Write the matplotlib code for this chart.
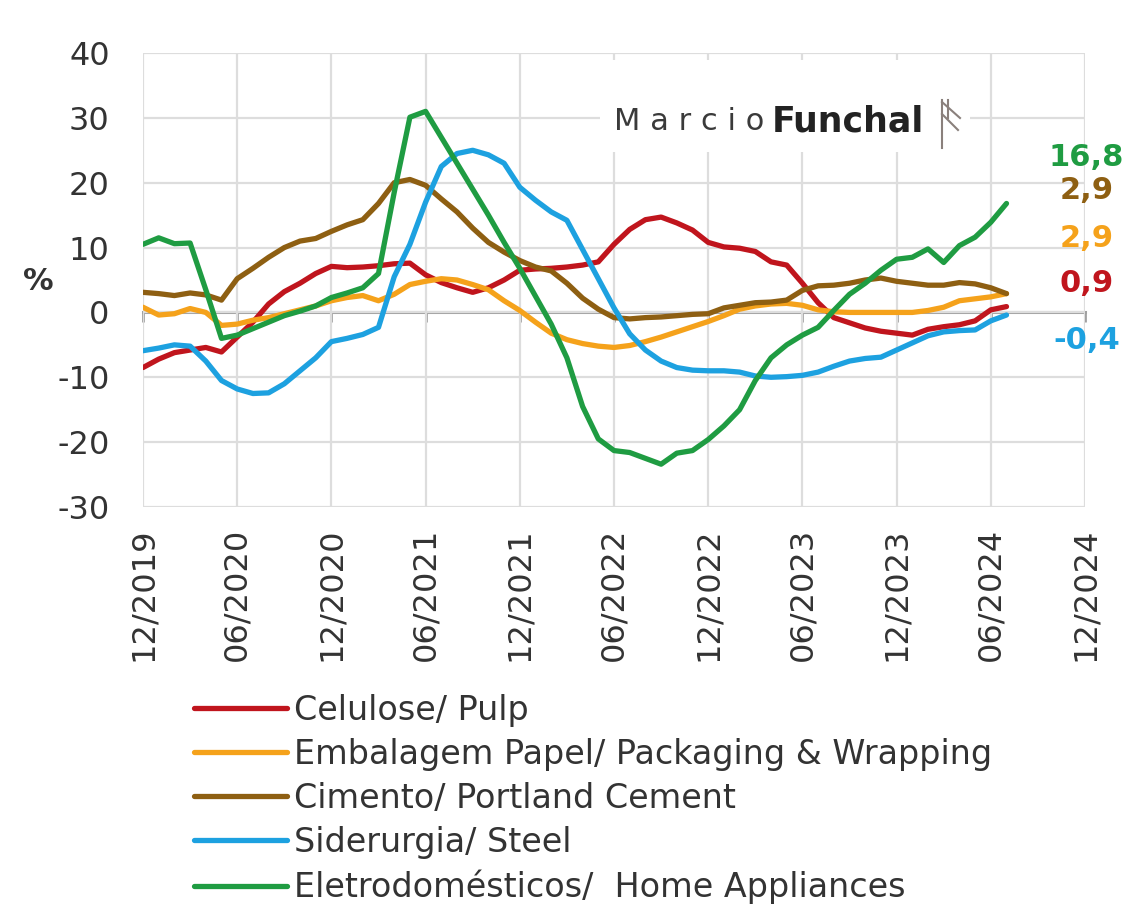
import numpy as np
import matplotlib.pyplot as plt
from matplotlib.patches import Rectangle
from matplotlib.lines import Line2D

# monthly series, 12/2019 .. 07/2024 (%)
pulp = [-8.5, -7.2, -6.2, -5.8, -5.4, -6.1, -3.8, -1.5, 1.3, 3.2,
        4.5, 6.0, 7.1, 6.9, 7.0, 7.2, 7.5, 7.6, 5.8, 4.6,
        3.8, 3.1, 3.8, 5.0, 6.5, 6.7, 6.8, 7.0, 7.3, 7.8,
        10.5, 12.8, 14.3, 14.7, 13.8, 12.7, 10.8, 10.1, 9.9, 9.4,
        7.8, 7.3, 4.5, 1.5, -0.8, -1.6, -2.4, -2.9, -3.2, -3.5,
        -2.6, -2.2, -1.9, -1.3, 0.4, 0.9]
packaging = [0.8, -0.4, -0.2, 0.6, 0.0, -2.0, -1.8, -1.2, -0.8, -0.2,
             0.4, 1.0, 1.8, 2.3, 2.6, 1.8, 2.8, 4.3, 4.8, 5.2,
             5.0, 4.3, 3.5, 1.8, 0.3, -1.5, -3.2, -4.2, -4.8, -5.2,
             -5.4, -5.1, -4.5, -3.8, -3.0, -2.2, -1.4, -0.5, 0.5, 1.0,
             1.3, 1.4, 1.1, 0.4, 0.1, 0.0, 0.0, 0.0, 0.0, 0.0,
             0.3, 0.8, 1.8, 2.1, 2.4, 2.9]
cement = [3.1, 2.9, 2.6, 3.0, 2.7, 1.9, 5.2, 6.8, 8.5, 10.0,
          11.0, 11.4, 12.5, 13.5, 14.3, 16.8, 20.0, 20.5, 19.6, 17.5,
          15.5, 13.0, 10.8, 9.3, 8.0, 7.0, 6.4, 4.5, 2.2, 0.5,
          -0.8, -1.0, -0.8, -0.7, -0.5, -0.3, -0.2, 0.7, 1.1, 1.5,
          1.6, 1.9, 3.4, 4.1, 4.2, 4.5, 5.0, 5.3, 4.8, 4.5,
          4.2, 4.2, 4.6, 4.4, 3.8, 2.9]
steel = [-5.9, -5.5, -5.0, -5.2, -7.5, -10.5, -11.8, -12.5, -12.4, -11.0,
         -9.0, -7.0, -4.5, -4.0, -3.4, -2.3, 5.5, 10.5, 17.0, 22.5,
         24.5, 25.0, 24.3, 23.0, 19.3, 17.3, 15.5, 14.2, 9.7, 5.2,
         0.7, -3.3, -5.8, -7.5, -8.5, -8.9, -9.0, -9.0, -9.2, -9.8,
         -10.0, -9.9, -9.7, -9.2, -8.3, -7.5, -7.1, -6.9, -5.8, -4.7,
         -3.6, -3.0, -2.8, -2.7, -1.3, -0.4]
appliances = [10.5, 11.5, 10.6, 10.7, 3.5, -4.0, -3.5, -2.5, -1.5, -0.5,
              0.2, 1.0, 2.3, 3.0, 3.8, 6.0, 18.5, 30.1, 31.0, 27.0,
              23.0, 19.0, 15.0, 10.8, 6.8, 2.5, -1.8, -7.0, -14.5, -19.5,
              -21.3, -21.6, -22.5, -23.4, -21.7, -21.3, -19.6, -17.5, -15.0, -10.5,
              -7.0, -5.0, -3.5, -2.3, 0.3, 2.8, 4.5, 6.5, 8.2, 8.5,
              9.8, 7.7, 10.3, 11.6, 13.9, 16.8]

labels = ['Celulose/ Pulp', 'Embalagem Papel/ Packaging & Wrapping',
          'Cimento/ Portland Cement', 'Siderurgia/ Steel',
          'Eletrodomésticos/  Home Appliances']
colors = ['#C0151D', '#F5A21B', '#8E5F12', '#1DA1E0', '#1F9C42']
series = [pulp, packaging, cement, steel, appliances]

tick_labels = ['12/2019', '06/2020', '12/2020', '06/2021', '12/2021', '06/2022',
               '12/2022', '06/2023', '12/2023', '06/2024', '12/2024']
tick_pos = np.arange(len(tick_labels)) * 6
y_ticks = [40, 30, 20, 10, 0, -10, -20, -30]
# vertical placement of the end-value labels (data units)
end_label_y = [4.5, 11.4, 18.8, -4.3, 23.9]

plt.rcParams['font.family'] = ['DejaVu Sans']
W, H = 1132, 906
fig = plt.figure(figsize=(W / 100, H / 100), dpi=100)
ax = fig.add_axes([143 / W, 1 - 507 / H, (1085 - 143) / W, (507 - 53) / H])

x = np.arange(len(pulp))
for vals, lab, col in zip(series, labels, colors):
    ax.plot(x, vals, color=col, lw=3.8, label=lab, solid_capstyle='round', zorder=3)

ax.set_xlim(0, 60)
ax.set_ylim(-30, 40)
ax.set_xticks(tick_pos)
ax.set_xticklabels(tick_labels, rotation=90, fontsize=23, color='#333333')
ax.set_yticks(y_ticks)
ax.set_yticklabels([str(v) for v in y_ticks], fontsize=23, color='#333333')
ax.tick_params(axis='x', length=0, pad=15)
ax.tick_params(axis='y', length=0, pad=24)
ax.grid(True, color='#DDDDDD', lw=1.6)
ax.set_axisbelow(True)
for s in ax.spines.values():
    s.set_visible(False)

# zero line with tick marks
zero_loc = (0 - (-30)) / 70
sec = ax.secondary_xaxis(zero_loc)
sec.set_xticks(tick_pos)
sec.set_xticklabels([])
sec.tick_params(direction='out', length=7, width=2, color='#A0A0A0')
for s in sec.spines.values():
    s.set_color('#A0A0A0')
    s.set_linewidth(2.2)

# end values
for vals, col, ly in zip(series, colors, end_label_y):
    ax.text(60.1, ly, f'{vals[-1]:.1f}'.replace('.', ','), color=col,
            fontsize=22, fontweight='bold', ha='center', va='center', clip_on=False)

fig.text(38 / W, 1 - 282 / H, '%', ha='center', va='center', fontsize=22,
         fontweight='bold', color='#333333')

# logo
fig.patches.append(Rectangle((600 / W, 1 - 152 / H), 370 / W, 92 / H,
                             transform=fig.transFigure, facecolor='white',
                             edgecolor='none', zorder=1))
fig.text(764 / W, 1 - 122 / H, 'M a r c i o', ha='right', va='center', fontsize=22,
         color='#3a3a3a', zorder=3)
fig.text(772 / W, 1 - 122 / H, 'Funchal', ha='left', va='center', fontsize=25,
         fontweight='bold', color='#222222', zorder=3)
mark = '#8a807c'
for xs, ys in [([942, 942], [100, 148]), ([942, 960], [102, 118]),
               ([942, 958], [114, 130]), ([948, 948], [100, 118])]:
    fig.lines.append(Line2D([v / W for v in xs], [1 - v / H for v in ys],
                            transform=fig.transFigure, color=mark, lw=1.5, zorder=3))

fig.legend(loc='upper left', bbox_to_anchor=(194 / W, 1 - 694 / H), frameon=False,
           fontsize=24, handlelength=2.8, handletextpad=0.2, labelspacing=0.33,
           borderpad=0, borderaxespad=0, labelcolor='#333333')

plt.savefig('out.png', dpi=100)
